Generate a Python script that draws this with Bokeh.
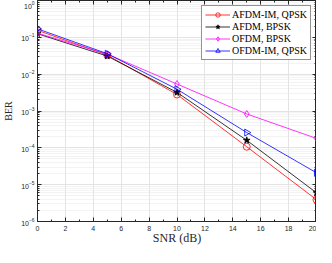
import math
from bokeh.plotting import figure
from bokeh.models import (LinearAxis, LogTicker, SingleIntervalTicker,
                          Range1d, Legend, CustomJSTickFormatter)
from bokeh.embed import file_html
from bokeh.resources import INLINE

snr = [0, 5, 10, 15, 20]
afdm_im_qpsk = [0.155, 0.033, 2.8e-3, 1.07e-4, 3.9e-6]
afdm_bpsk = [0.125, 0.031, 3.2e-3, 1.6e-4, 6.0e-6]
ofdm_bpsk = [0.13, 0.035, 5.4e-3, 8.3e-4, 1.8e-4]
ofdm_im_qpsk = [0.17, 0.036, 3.9e-3, 2.6e-4, 2.1e-5]
x_label = "SNR (dB)"
y_label = "BER"

series = [
    ("AFDM-IM, QPSK", afdm_im_qpsk, "#ff0000", "circle", 0.0, None),
    ("AFDM, BPSK", afdm_bpsk, "#000000", "star", 0.0, "#000000"),
    ("OFDM, BPSK", ofdm_bpsk, "#ff00ff", "diamond", 0.0, None),
    ("OFDM-IM, QPSK", ofdm_im_qpsk, "#0000ff", "triangle", -math.pi / 2, None),
]

AX = "#262626"

p = figure(width=316, height=247, output_backend="svg", toolbar_location=None,
           y_axis_type="log", x_range=Range1d(0, 20), y_range=Range1d(1e-6, 1),
           min_border_left=0, min_border_right=0, min_border_top=0,
           min_border_bottom=0)
p.outline_line_color = AX
p.outline_line_width = 1
p.background_fill_color = "white"
p.border_fill_color = "white"

xt = SingleIntervalTicker(interval=2, num_minor_ticks=2)
yt = LogTicker(num_minor_ticks=10)

xa = p.xaxis[0]
xa.ticker = xt
ya = p.yaxis[0]
ya.ticker = yt

for ax in (xa, ya):
    ax.major_tick_in = 4
    ax.major_tick_out = 0
    ax.minor_tick_in = 2
    ax.minor_tick_out = 0
    ax.axis_line_color = AX
    ax.major_tick_line_color = AX
    ax.minor_tick_line_color = AX
    ax.major_label_text_font = "Liberation Sans"
    ax.major_label_text_font_size = "7px"
    ax.major_label_text_color = AX
    ax.axis_label_text_font = "Liberation Serif"
    ax.axis_label_text_font_style = "normal"
    ax.axis_label_text_color = AX

xa.major_label_standoff = 4
xa.axis_label_standoff = -3
ya.major_label_standoff = 3
ya.axis_label_standoff = 4

xa.axis_label = x_label
xa.axis_label_text_font_size = "12px"
ya.axis_label = y_label
ya.axis_label_text_font_size = "10px"

# box axes on top/right (ticks only)
blank = CustomJSTickFormatter(code="return ' '")
top = LinearAxis(ticker=xt, formatter=blank)
right = LinearAxis(ticker=yt, formatter=blank)
for ax in (top, right):
    ax.major_tick_in = 4
    ax.major_tick_out = 0
    ax.minor_tick_in = 2
    ax.minor_tick_out = 0
    ax.axis_line_color = AX
    ax.major_tick_line_color = AX
    ax.minor_tick_line_color = AX
    ax.major_label_text_font_size = "1px"
    ax.major_label_text_alpha = 0
    ax.major_label_standoff = -20
    ax.axis_label_standoff = 0
p.add_layout(top, "above")
p.add_layout(right, "right")

p.xgrid.grid_line_color = "#e3e3e3"
p.xgrid.grid_line_width = 1
p.ygrid.grid_line_color = "#e3e3e3"
p.ygrid.minor_grid_line_color = "#e6e6e6"
p.ygrid.minor_grid_line_dash = "1 1"

items = []
for label, vals, col, mk, ang, fill in series:
    r1 = p.line(snr, vals, line_color=col, line_width=0.8)
    r2 = p.scatter(snr, vals, marker=mk, size=7, angle=ang, line_color=col,
                   fill_color=fill if fill else None, line_width=0.8)
    items.append((label, [r1, r2]))

legend = Legend(items=items, location="top_right")
legend.label_text_font = "Liberation Serif"
legend.label_text_font_size = "10px"
legend.label_text_color = "#000000"
legend.glyph_width = 25
legend.glyph_height = 11
legend.label_height = 11
legend.label_standoff = 2
legend.spacing = 1
legend.padding = 3
legend.margin = 5
legend.border_line_color = AX
legend.border_line_width = 1
legend.background_fill_alpha = 1
p.add_layout(legend)

open("out.html", "w").write(file_html(p, INLINE))
